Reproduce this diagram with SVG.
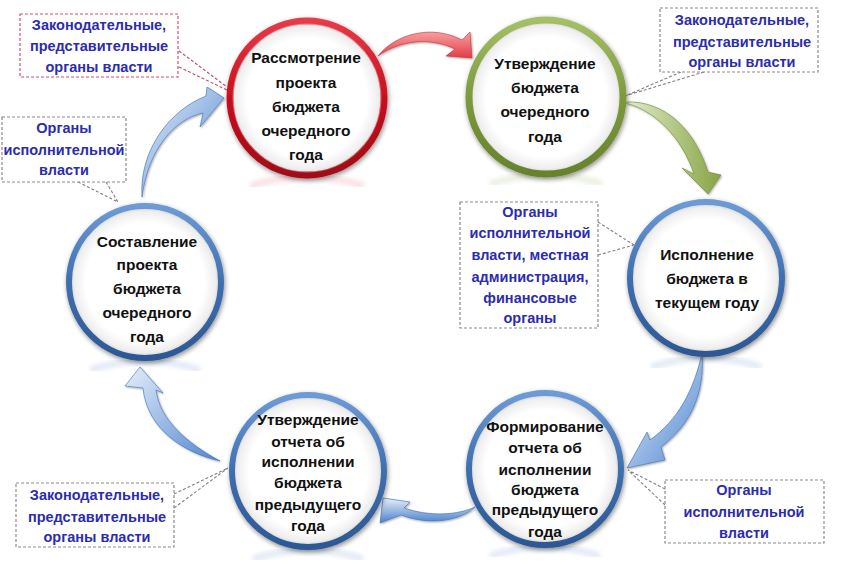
<svg xmlns="http://www.w3.org/2000/svg" width="841" height="571" viewBox="0 0 841 571">
<defs>
<style>
.nt{font-family:"Liberation Sans",Arial,sans-serif;font-weight:bold;font-size:15.5px;fill:#111;text-anchor:middle}
.ct{font-family:"Liberation Sans",Arial,sans-serif;font-weight:bold;font-size:14.5px;fill:#2c2cae;text-anchor:middle}
.box{fill:#fff;stroke:#8a8a8a;stroke-width:1.2;stroke-dasharray:3 2}
.boxr{fill:#fff;stroke:#d0506e;stroke-width:1.2;stroke-dasharray:3 2}
.ld{fill:none;stroke:#808080;stroke-width:1.1;stroke-dasharray:3 2}
.ldr{fill:none;stroke:#c84a68;stroke-width:1.1;stroke-dasharray:3 2}
.inner{fill:url(#innerG)}
.refl{fill:none;stroke-width:7;opacity:0.16;filter:url(#soft)}
</style>
<radialGradient id="innerG" cx="0.5" cy="0.5" r="0.5">
<stop offset="0.78" stop-color="#ffffff"/>
<stop offset="0.93" stop-color="#eeeeee"/>
<stop offset="1" stop-color="#c8c8c8"/>
</radialGradient>
<linearGradient id="redR" x1="0" y1="0" x2="0" y2="1">
<stop offset="0" stop-color="#e63a48"/>
<stop offset="0.5" stop-color="#c8101e"/>
<stop offset="1" stop-color="#a00814"/>
</linearGradient>
<linearGradient id="greenR" x1="0" y1="0" x2="0" y2="1">
<stop offset="0" stop-color="#a4bf66"/>
<stop offset="0.5" stop-color="#7d9a3e"/>
<stop offset="1" stop-color="#66822c"/>
</linearGradient>
<linearGradient id="blueR" x1="0" y1="0" x2="0" y2="1">
<stop offset="0" stop-color="#6d9bd6"/>
<stop offset="0.5" stop-color="#3f6fae"/>
<stop offset="1" stop-color="#2d5894"/>
</linearGradient>
<linearGradient id="redA" x1="0" y1="0" x2="0" y2="1">
<stop offset="0" stop-color="#f7a0a0"/>
<stop offset="1" stop-color="#e23c44"/>
</linearGradient>
<linearGradient id="greenA" x1="0" y1="0" x2="1" y2="0">
<stop offset="0" stop-color="#e4ecd0"/>
<stop offset="1" stop-color="#86a442"/>
</linearGradient>
<linearGradient id="blueA" x1="0" y1="0" x2="1" y2="1">
<stop offset="0" stop-color="#e6eefa"/>
<stop offset="1" stop-color="#4f86d0"/>
</linearGradient>
<linearGradient id="blueA2" x1="0" y1="0" x2="0" y2="1">
<stop offset="0" stop-color="#e8eff9"/>
<stop offset="1" stop-color="#4a80cc"/>
</linearGradient>
<filter id="sh" x="-20%" y="-20%" width="140%" height="140%">
<feGaussianBlur in="SourceAlpha" stdDeviation="2.5"/>
<feOffset dx="1" dy="2" result="b"/>
<feComponentTransfer><feFuncA type="linear" slope="0.45"/></feComponentTransfer>
<feMerge><feMergeNode/><feMergeNode in="SourceGraphic"/></feMerge>
</filter>
<filter id="ash" x="-20%" y="-20%" width="140%" height="140%">
<feGaussianBlur in="SourceAlpha" stdDeviation="1"/>
<feOffset dx="1" dy="1" result="b"/>
<feComponentTransfer><feFuncA type="linear" slope="0.35"/></feComponentTransfer>
<feMerge><feMergeNode/><feMergeNode in="SourceGraphic"/></feMerge>
</filter>
<filter id="soft"><feGaussianBlur stdDeviation="2"/></filter>
</defs>
<rect width="841" height="571" fill="#ffffff"/>

<g id="reflections">
<path class="refl" stroke="#e05060" d="M250 186 Q307 168 364 186"/>
<path class="refl" stroke="#90aa55" d="M490 184 Q546 166 602 184"/>
<path class="refl" stroke="#5a88c8" d="M90 370 Q145 352 200 370"/>
<path class="refl" stroke="#5a88c8" d="M651 367 Q706 349 761 367"/>
<path class="refl" stroke="#5a88c8" d="M253 559 Q308 541 363 559"/>
<path class="refl" stroke="#5a88c8" d="M490 556 Q545 538 600 556"/>
</g>

<g id="connectors">
<path filter="url(#ash)" fill="url(#redA)" stroke="#c03040" stroke-width="0.6" d="M378 56 C395 34 432 24 462 40 L470 32 L472 58 L446 56 L455 49 C430 37 400 40 378 56 Z"/>
<path filter="url(#ash)" fill="url(#greenA)" stroke="#6a8a30" stroke-width="0.6" d="M625 102 C665 100 695 130 708 172 L721 175 L708 194 L682 168 L694 174 C682 138 655 110 625 103 Z"/>
<path filter="url(#ash)" fill="url(#blueA)" stroke="#3d6eb0" stroke-width="0.6" d="M702 353 C705 395 690 425 661 447 L665 460 L627 468 L647 432 L650 440 C678 420 694 390 702 353 Z"/>
<path filter="url(#ash)" fill="url(#blueA2)" stroke="#3d6eb0" stroke-width="0.6" d="M475 507 C460 521 430 526 401 515 L380 523 L383 498 L410 502 L404 508 C430 517 458 515 475 507 Z"/>
<path filter="url(#ash)" fill="url(#blueA)" stroke="#3d6eb0" stroke-width="0.6" d="M220 461 C185 453 147 430 143 388 L125 386 L140 367 L163 393 L156 390 C160 420 187 443 220 461 Z"/>
<path filter="url(#ash)" fill="url(#blueA)" stroke="#3d6eb0" stroke-width="0.6" d="M142 197 C139 150 170 110 206 96 L207 87 L224 98 L200 127 L203 113 C174 119 148 150 142 197 Z"/>
<path class="ldr" d="M179 51 L227 87 M179 67 L227 90"/>
<path class="ld" d="M78 182 L118 202 M106 182 L118 202"/>
<path class="ld" d="M681 72 L625 96 M704 72 L625 96"/>
<path class="ld" d="M598 222 L634 245 M598 255 L634 245"/>
<path class="ld" d="M665 489 L628 470 M665 505 L628 470"/>
<path class="ld" d="M174 494 L228 468 M174 508 L228 468"/>
</g>

<g id="n1">
<circle cx="307" cy="98" r="77" class="inner" stroke="url(#redR)" stroke-width="7" filter="url(#sh)"/>
<circle cx="307" cy="98" r="74" fill="none" stroke="#ffffff" stroke-opacity="0.35" stroke-width="1"/>
<text class="nt" x="306" y="63">Рассмотрение</text>
<text class="nt" x="306" y="88">проекта</text>
<text class="nt" x="306" y="112">бюджета</text>
<text class="nt" x="306" y="136">очередного</text>
<text class="nt" x="306" y="160">года</text>
</g>

<g id="n2">
<circle cx="546" cy="97" r="77" class="inner" stroke="url(#greenR)" stroke-width="7" filter="url(#sh)"/>
<text class="nt" x="545" y="69">Утверждение</text>
<text class="nt" x="545" y="93">бюджета</text>
<text class="nt" x="545" y="117">очередного</text>
<text class="nt" x="545" y="142">года</text>
</g>

<g id="n3">
<circle cx="145" cy="282" r="76" class="inner" stroke="url(#blueR)" stroke-width="6" filter="url(#sh)"/>
<text class="nt" x="147" y="247">Составление</text>
<text class="nt" x="147" y="270">проекта</text>
<text class="nt" x="147" y="294">бюджета</text>
<text class="nt" x="147" y="318">очередного</text>
<text class="nt" x="147" y="342">года</text>
</g>

<g id="n4">
<circle cx="706" cy="278" r="76" class="inner" stroke="url(#blueR)" stroke-width="6" filter="url(#sh)"/>
<text class="nt" x="707" y="260">Исполнение</text>
<text class="nt" x="707" y="284">бюджета в</text>
<text class="nt" x="707" y="308">текущем году</text>
</g>

<g id="n5">
<circle cx="308" cy="471" r="76" class="inner" stroke="url(#blueR)" stroke-width="6" filter="url(#sh)"/>
<text class="nt" x="308" y="425">Утверждение</text>
<text class="nt" x="308" y="447">отчета об</text>
<text class="nt" x="308" y="467">исполнении</text>
<text class="nt" x="308" y="488">бюджета</text>
<text class="nt" x="308" y="510">предыдущего</text>
<text class="nt" x="308" y="531">года</text>
</g>

<g id="n6">
<circle cx="545" cy="469" r="76" class="inner" stroke="url(#blueR)" stroke-width="6" filter="url(#sh)"/>
<text class="nt" x="545" y="432">Формирование</text>
<text class="nt" x="545" y="453">отчета об</text>
<text class="nt" x="545" y="475">исполнении</text>
<text class="nt" x="545" y="495">бюджета</text>
<text class="nt" x="545" y="515">предыдущего</text>
<text class="nt" x="545" y="537">года</text>
</g>

<g id="c1">
<rect class="boxr" x="20" y="14" width="158" height="63"/>
<text class="ct" x="99" y="30">Законодательные,</text>
<text class="ct" x="99" y="51">представительные</text>
<text class="ct" x="99" y="72">органы власти</text>
</g>

<g id="c2">
<rect class="box" x="2" y="117" width="124" height="65"/>
<text class="ct" x="64" y="133">Органы</text>
<text class="ct" x="64" y="155">исполнительной</text>
<text class="ct" x="64" y="175">власти</text>
</g>

<g id="c3">
<rect class="box" x="660" y="8" width="158" height="64"/>
<text class="ct" x="742" y="25">Законодательные,</text>
<text class="ct" x="742" y="47">представительные</text>
<text class="ct" x="742" y="67">органы власти</text>
</g>

<g id="c4">
<rect class="box" x="460" y="202" width="138" height="126"/>
<text class="ct" x="530" y="217">Органы</text>
<text class="ct" x="530" y="238">исполнительной</text>
<text class="ct" x="530" y="260">власти, местная</text>
<text class="ct" x="530" y="282">администрация,</text>
<text class="ct" x="530" y="303">финансовые</text>
<text class="ct" x="530" y="323">органы</text>
</g>

<g id="c5">
<rect class="box" x="665" y="480" width="159" height="63"/>
<text class="ct" x="744" y="495">Органы</text>
<text class="ct" x="744" y="517">исполнительной</text>
<text class="ct" x="744" y="538">власти</text>
</g>

<g id="c6">
<rect class="box" x="16" y="483" width="158" height="64"/>
<text class="ct" x="97" y="500">Законодательные,</text>
<text class="ct" x="97" y="522">представительные</text>
<text class="ct" x="97" y="542">органы власти</text>
</g>
</svg>
